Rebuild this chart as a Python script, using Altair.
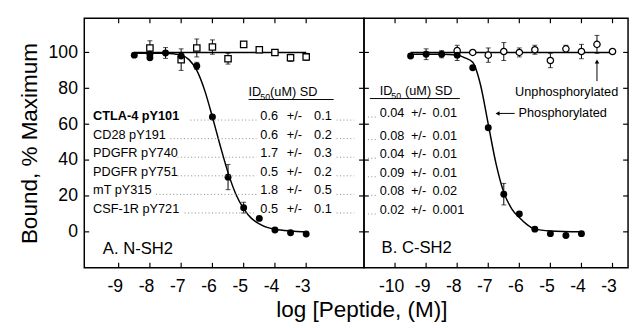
import altair as alt
import pandas as pd

FONT = "Liberation Sans"

# ---------------- data ----------------
# Panel A: N-SH2, CTLA-4 pY101 (phosphorylated, filled) vs unphosphorylated (open)
a_phos_x = [-8.5, -8.0, -8.0, -7.5, -7.0, -6.5, -6.0, -5.5, -5.0, -4.5, -4.0, -3.5, -3.0]
a_phos_y = [98.5, 99.0, 97.0, 99.7, 98.0, 92.5, 64.0, 30.5, 13.5, 7.5, 1.0, -0.5, -1.2]
a_phos_e = [0, 0, 0, 3, 2, 2, 0, 7, 3, 0, 0, 0, 0]

a_unph_x = [-8.0, -7.0, -6.5, -6.0, -5.5, -5.0, -4.5, -4.0, -3.5, -3.0]
a_unph_y = [102.5, 96.0, 102.5, 103.0, 96.5, 104.5, 101.5, 100.0, 97.0, 97.5]
a_unph_e = [4, 6, 5, 4, 3, 1.5, 0, 0, 2, 2]

a_curve_x = [-8.5, -7.5, -7.0, -6.75, -6.5, -6.25, -6.0, -5.75, -5.5, -5.25, -5.0, -4.75, -4.5, -4.25, -4.0, -3.5, -3.0]
a_curve_y = [99.5, 99.5, 98.5, 96.0, 90.0, 79.0, 64.0, 48.0, 33.0, 21.0, 13.0, 7.5, 4.5, 2.5, 1.5, 0.5, 0.0]
a_flat_x = [-8.5, -3.0]
a_flat_y = [100, 100]

# Panel B: C-SH2
b_phos_x = [-9.5, -9.0, -8.5, -8.0, -7.5, -7.0, -6.5, -6.0, -5.5, -5.0, -4.5, -4.0]
b_phos_y = [98.0, 99.0, 99.0, 98.5, 91.5, 58.0, 21.0, 10.0, 1.5, -1.0, -2.0, -1.0]
b_phos_e = [0, 3, 2, 3, 0, 0, 6, 0, 0, 0, 0, 0]

b_unph_x = [-8.0, -7.5, -7.0, -6.5, -6.0, -5.5, -5.0, -4.5, -4.0, -3.5, -3.0]
b_unph_y = [101.0, 100.0, 98.5, 100.5, 100.0, 101.5, 95.5, 102.0, 100.5, 104.5, 100.5]
b_unph_e = [3, 0, 4, 5, 2.5, 2.5, 4, 2, 4, 5, 0]

b_curve_x = [-9.5, -8.5, -8.0, -7.75, -7.5, -7.25, -7.0, -6.75, -6.5, -6.25, -6.0, -5.75, -5.5, -5.0, -4.0]
b_curve_y = [99.0, 99.0, 98.5, 97.0, 94.5, 82.0, 60.0, 38.0, 22.0, 13.0, 8.0, 4.0, 1.5, 0.5, 0.0]
b_flat_x = [-9.5, -3.0]
b_flat_y = [100, 100]

# ID50 tables
peptides = ["CTLA-4 pY101", "CD28 pY191", "PDGFR pY740", "PDGFR pY751", "mT pY315", "CSF-1R pY721"]
a_id50 = ["0.6", "0.6", "1.7", "0.5", "1.8", "0.5"]
a_sd = ["0.1", "0.2", "0.3", "0.2", "0.5", "0.1"]
b_id50 = ["0.04", "0.08", "0.04", "0.09", "0.08", "0.02"]
b_sd = ["0.01", "0.01", "0.01", "0.01", "0.02", "0.001"]

a_xticks = [-9, -8, -7, -6, -5, -4, -3]
b_xticks = [-10, -9, -8, -7, -6, -5, -4, -3]
y_ticks = [0, 20, 40, 60, 80, 100]

# ---------------- layout ----------------
WA, WB, H = 286, 270, 255
YDOM = [-20, 119]
ys = alt.Scale(domain=YDOM, nice=False, zero=False)
one = pd.DataFrame({"k": [0]})


def txt(x, y, s, size=13, weight="normal", align="left", baseline="middle"):
    return alt.Chart(one).mark_text(
        font=FONT, fontSize=size, fontWeight=weight, align=align, baseline=baseline, color="black"
    ).encode(x=alt.value(x), y=alt.value(y), text=alt.value(s))


def hrule(x1, x2, y, dash=None, color="black", w=1.0):
    kw = dict(color=color, strokeWidth=w)
    if dash:
        kw["strokeDash"] = dash
    return alt.Chart(one).mark_rule(**kw).encode(x=alt.value(x1), x2=alt.value(x2), y=alt.value(y))


def panel(W, xdom, xticks, px, py, pe, ux, uy, ue, cx, cy, fx, fy, open_shape, yaxis):
    xs = alt.Scale(domain=xdom, nice=False, zero=False)
    xaxis = alt.Axis(values=xticks, ticks=False, tickSize=0, domain=False, grid=False,
                     labelFontSize=18, labelPadding=10, labelOffset=-4, title=None,
                     labelExpr="datum.value + ''", labelColor="black", labelFont=FONT)
    if yaxis:
        yax = alt.Axis(values=y_ticks, ticks=False, tickSize=0, domain=False, grid=False,
                       labelFontSize=18, labelPadding=7, title="Bound, % Maximum",
                       titleFontSize=23, titleFontWeight="normal", titlePadding=7,
                       labelColor="black", titleColor="black", labelFont=FONT, titleFont=FONT)
    else:
        yax = None

    def X(f):
        return alt.X(f, scale=xs, axis=xaxis, title=None)

    def Y(f):
        if yax is None:
            return alt.Y(f, scale=ys, axis=None)
        return alt.Y(f, scale=ys, axis=yax)

    xt = pd.DataFrame({"t": xticks})
    yt = pd.DataFrame({"v": y_ticks})
    tick_style = dict(color="black", strokeWidth=1.2)
    t_bot = alt.Chart(xt).mark_rule(**tick_style).encode(
        x=X("t:Q"), y=alt.value(H), y2=alt.value(H - 5))
    t_top = alt.Chart(xt).mark_rule(**tick_style).encode(
        x=X("t:Q"), y=alt.value(0), y2=alt.value(5))
    t_left = alt.Chart(yt).mark_rule(**tick_style).encode(
        y=Y("v:Q"), x=alt.value(0), x2=alt.value(5))
    t_right = alt.Chart(yt).mark_rule(**tick_style).encode(
        y=Y("v:Q"), x=alt.value(W - 5), x2=alt.value(W))

    cdf = pd.DataFrame({"x": cx, "y": cy})
    curve = alt.Chart(cdf).mark_line(color="black", strokeWidth=1.5, interpolate="monotone").encode(
        x=X("x:Q"), y=Y("y:Q"))
    fdf = pd.DataFrame({"x": fx, "y": fy})
    flat = alt.Chart(fdf).mark_line(color="black", strokeWidth=1.5).encode(
        x=X("x:Q"), y=Y("y:Q"))

    pdf = pd.DataFrame({"x": px, "y": py, "e": pe})
    pdf["lo"] = pdf["y"] - pdf["e"]
    pdf["hi"] = pdf["y"] + pdf["e"]
    udf = pd.DataFrame({"x": ux, "y": uy, "e": ue})
    udf["lo"] = udf["y"] - udf["e"]
    udf["hi"] = udf["y"] + udf["e"]

    layers = [t_bot, t_top, t_left, t_right, flat, curve]
    for d in (udf, pdf):
        de = d[d["e"] > 0]
        layers.append(alt.Chart(de).mark_rule(color="black", strokeWidth=1).encode(
            x=X("x:Q"), y=Y("lo:Q"), y2="hi:Q"))
        for col in ("lo", "hi"):
            layers.append(alt.Chart(de).mark_tick(color="black", orient="horizontal", size=5, thickness=1).encode(
                x=X("x:Q"), y=Y(f"{col}:Q")))
    layers.append(alt.Chart(udf).mark_point(shape=open_shape, filled=True, fill="white", stroke="black",
                                            strokeWidth=1.3, size=42, opacity=1).encode(
        x=X("x:Q"), y=Y("y:Q")))
    layers.append(alt.Chart(pdf).mark_point(shape="circle", filled=True, color="black", size=50, opacity=1).encode(
        x=X("x:Q"), y=Y("y:Q")))
    return layers, X, Y


# ---------- Panel A ----------
layA, XA, YA = panel(WA, [-10.1, -1.15], a_xticks, a_phos_x, a_phos_y, a_phos_e,
                     a_unph_x, a_unph_y, a_unph_e, a_curve_x, a_curve_y, a_flat_x, a_flat_y,
                     "square", True)
rowsA = [100, 119, 138, 157, 176, 195]
layA += [txt(168, 75, "ID"), txt(180, 80, "50", size=9), txt(190, 75, "(uM) SD"),
         hrule(168, 255, 83)]
for i, (name, v, s) in enumerate(zip(peptides, a_id50, a_sd)):
    y = rowsA[i]
    layA.append(txt(9, y, name, weight="bold" if i == 0 else "normal"))
    name_w = len(name) * 7.3 + (6 if i == 0 else 0)
    layA.append(hrule(9 + name_w + 6, 176, y + 4, dash=[1, 2.5], color="#888", w=1))
    layA.append(txt(180, y, v))
    layA.append(txt(207, y, "+/-"))
    layA.append(txt(235, y, s))
    layA.append(hrule(258, 276, y + 4, dash=[1, 2.5], color="#888", w=1))
layA.append(txt(19, 236, "A. N-SH2", size=17))

chartA = alt.layer(*layA).properties(width=WA, height=H)

# ---------- Panel B ----------
layB, XB, YB = panel(WB, [-11, -2.5], b_xticks, b_phos_x, b_phos_y, b_phos_e,
                     b_unph_x, b_unph_y, b_unph_e, b_curve_x, b_curve_y, b_flat_x, b_flat_y,
                     "circle", False)
rowsB = [97, 120, 139, 158, 177, 196]
layB += [txt(16, 74, "ID"), txt(28, 79, "50", size=9), txt(42, 74, "(uM) SD"),
         hrule(6, 98, 82)]
for i, (v, s) in enumerate(zip(b_id50, b_sd)):
    y = rowsB[i]
    layB.append(hrule(4, 13, y + 4, dash=[1, 2.5], color="#888", w=1))
    layB.append(txt(16, y, v))
    layB.append(txt(48, y, "+/-"))
    layB.append(txt(70, y, s))
layB.append(txt(18, 235, "B. C-SH2", size=17))

# annotations (data coordinates)
ann_arrow = pd.DataFrame({"x1": [-6.7], "x2": [-6.15], "y": [66]})
ann_unph = pd.DataFrame({"x": [-3.5], "y1": [84], "y2": [95]})
layB.append(alt.Chart(ann_arrow).mark_rule(color="black", strokeWidth=1).encode(
    x=XB("x1:Q"), x2="x2:Q", y=YB("y:Q")))
layB.append(alt.Chart(ann_arrow).mark_point(shape="triangle-left", filled=True, color="black", size=22, opacity=1).encode(
    x=XB("x1:Q"), y=YB("y:Q")))
layB.append(alt.Chart(ann_arrow).mark_text(font=FONT, fontSize=13, align="left", baseline="middle", color="black", dx=4).encode(
    x=XB("x2:Q"), y=YB("y:Q"), text=alt.value("Phosphorylated")))
layB.append(alt.Chart(ann_unph).mark_rule(color="black", strokeWidth=1).encode(
    x=XB("x:Q"), y=YB("y1:Q"), y2="y2:Q"))
layB.append(alt.Chart(ann_unph).mark_point(shape="triangle-up", filled=True, color="black", size=22, opacity=1).encode(
    x=XB("x:Q"), y=YB("y2:Q")))
layB.append(alt.Chart(ann_unph).mark_text(font=FONT, fontSize=13, align="center", baseline="middle", color="black",
                                          dx=-31, dy=11).encode(
    x=XB("x:Q"), y=YB("y1:Q"), text=alt.value("Unphosphorylated")))

chartB = alt.layer(*layB).properties(width=WB, height=H)

chart = alt.hconcat(chartA, chartB, spacing=0, bounds="flush").properties(
    title=alt.TitleParams("log [Peptide, (M)]", orient="bottom", anchor="middle", fontSize=23,
                          fontWeight="normal", font=FONT, color="black", dx=39, offset=4),
    padding={"left": 10, "top": 5, "right": 0, "bottom": 0},
).configure(font=FONT).configure_view(stroke="black", strokeWidth=1.5, fill=None)

chart.save("out.html", embed_options={"renderer": "svg", "actions": False})
